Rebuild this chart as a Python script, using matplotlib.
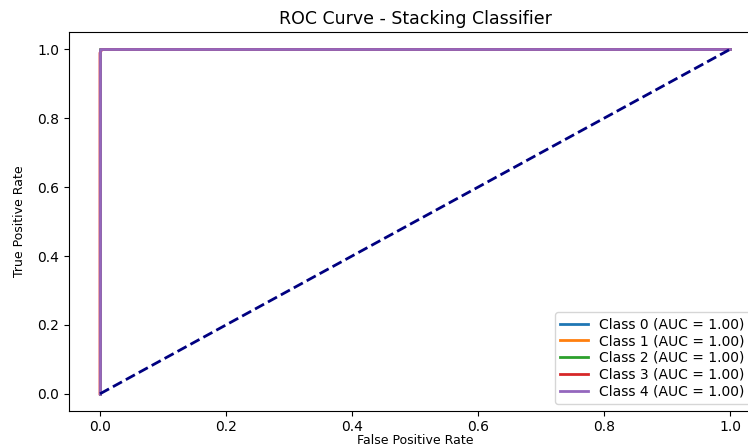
import matplotlib
matplotlib.use("Agg")
import matplotlib.pyplot as plt

# ROC points per class (all perfect classifiers)
class_names = ["Class 0", "Class 1", "Class 2", "Class 3", "Class 4"]
auc_values = [1.00, 1.00, 1.00, 1.00, 1.00]
fpr_list = [[0.0, 0.0, 0.0, 1.0],
            [0.0, 0.0, 0.0, 1.0],
            [0.0, 0.0, 0.0, 1.0],
            [0.0, 0.0, 0.003, 1.0],
            [0.0, 0.0, 0.0, 1.0]]
tpr_list = [[0.0, 0.99, 1.0, 1.0],
            [0.0, 0.99, 1.0, 1.0],
            [0.0, 0.99, 1.0, 1.0],
            [0.0, 0.99, 1.0, 1.0],
            [0.0, 0.99, 1.0, 1.0]]
colors = ["tab:blue", "tab:orange", "tab:green", "tab:red", "tab:purple"]

fig = plt.figure(figsize=(7.48, 4.47), dpi=100)
ax = fig.add_axes([0.0916, 0.0805, 0.9264, 0.8475])

for name, auc, fpr, tpr, c in zip(class_names, auc_values, fpr_list, tpr_list, colors):
    ax.plot(fpr, tpr, color=c, lw=2, label=f"{name} (AUC = {auc:.2f})")

ax.plot([0, 1], [0, 1], color="navy", lw=2, linestyle="--")
ax.set_xlim(-0.05, 1.05)
ax.set_ylim(-0.05, 1.05)
ax.set_xticks([0.0, 0.2, 0.4, 0.6, 0.8, 1.0])
ax.set_yticks([0.0, 0.2, 0.4, 0.6, 0.8, 1.0])
ax.tick_params(labelsize=10, pad=3)
ax.set_xlabel("False Positive Rate", fontsize=9, labelpad=0)
ax.set_ylabel("True Positive Rate", fontsize=9, labelpad=8)
ax.set_title("ROC Curve - Stacking Classifier", fontsize=12.5)
ax.legend(loc="lower right", fontsize=10, labelspacing=0.2,
          bbox_to_anchor=(0.994, 0.0))

fig.savefig("out.png", dpi=100)
